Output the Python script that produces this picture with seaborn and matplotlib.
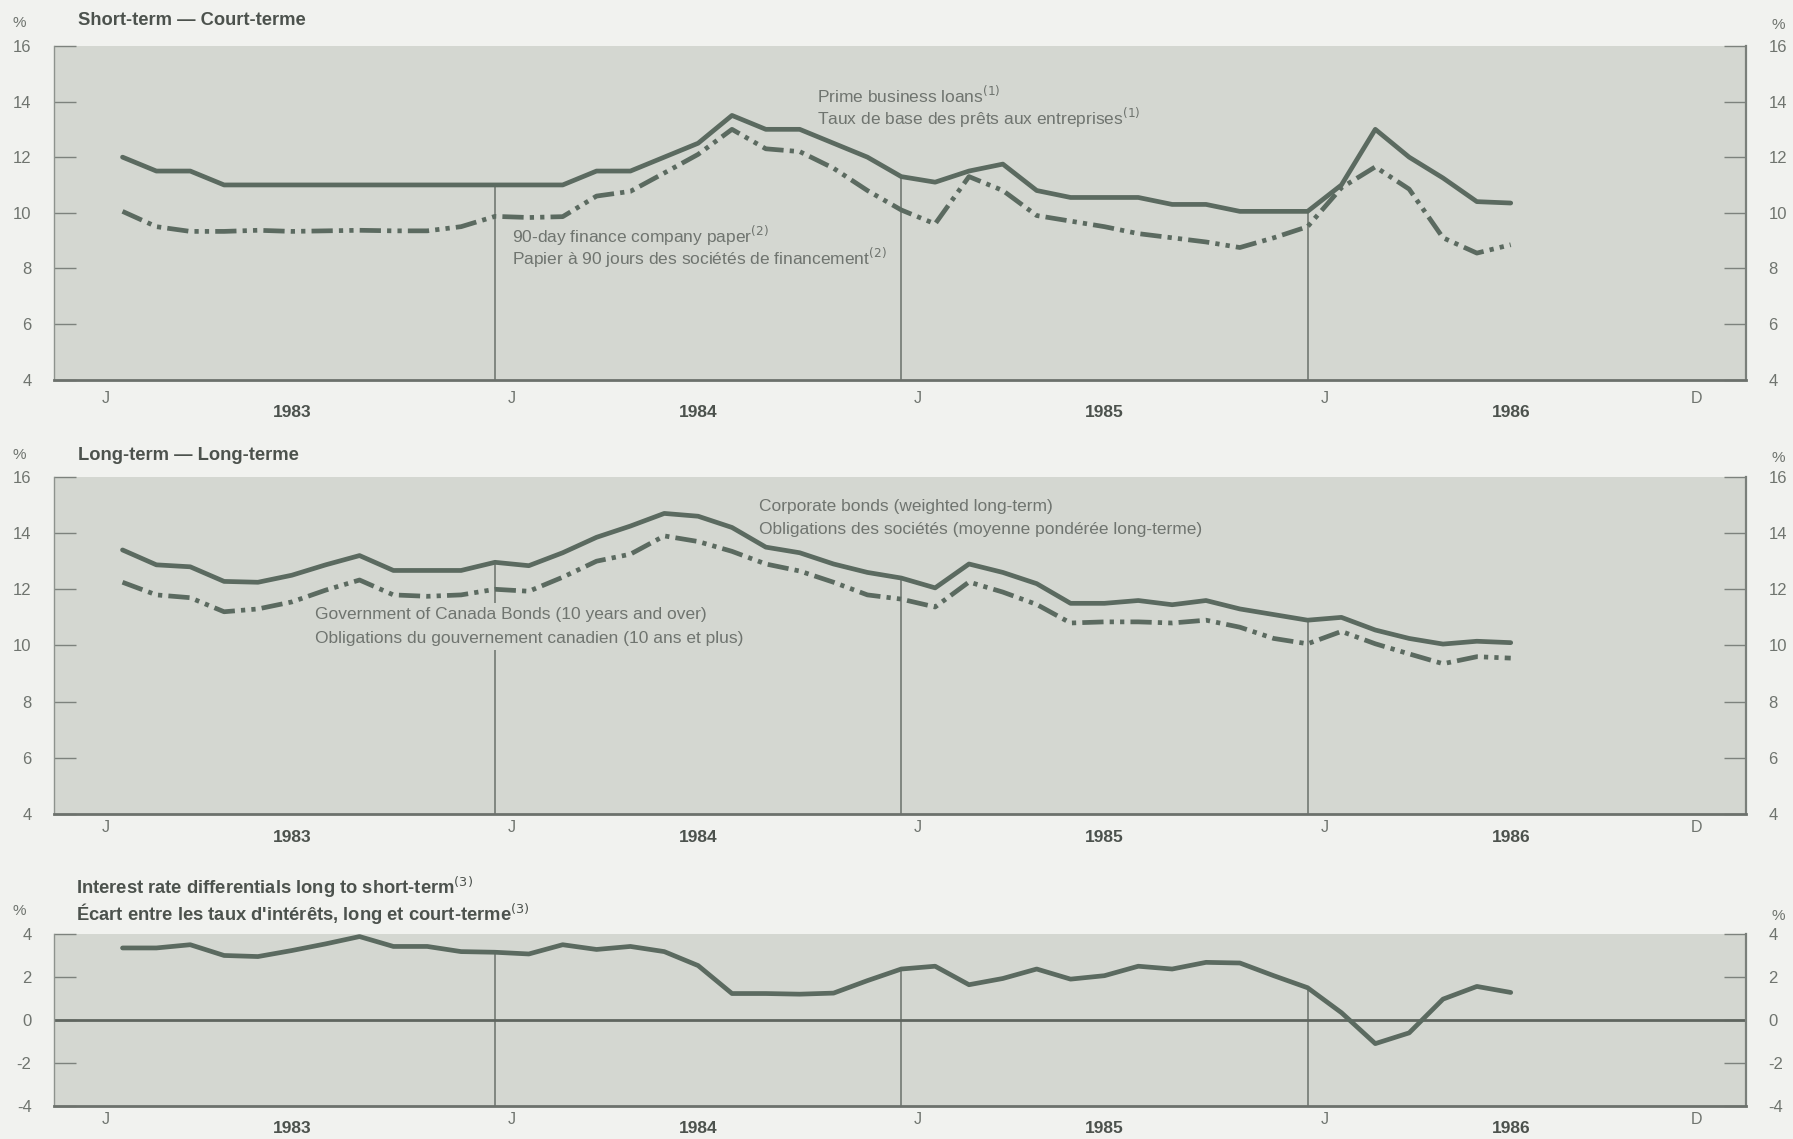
import matplotlib
matplotlib.use("Agg")
import matplotlib.pyplot as plt
import seaborn as sns
import pandas as pd

# monthly observations, Jan 1983 .. Jun 1986 (plotted at month ends)
months = list(range(1, 43))

prime = [12.0, 11.5, 11.5, 11.0, 11.0, 11.0, 11.0, 11.0, 11.0, 11.0,
         11.0, 11.0, 11.0, 11.0, 11.5, 11.5, 12.0, 12.5, 13.5, 13.0,
         13.0, 12.5, 12.0, 11.3, 11.1, 11.5, 11.75, 10.8, 10.55, 10.55,
         10.55, 10.3, 10.3, 10.05, 10.05, 10.05, 11.0, 13.0, 12.0, 11.25,
         10.4, 10.35]
paper = [10.05, 9.5, 9.33, 9.33, 9.37, 9.33, 9.35, 9.37, 9.35, 9.35,
         9.5, 9.87, 9.83, 9.86, 10.6, 10.77, 11.43, 12.1, 13.0, 12.3,
         12.2, 11.6, 10.8, 10.1, 9.6, 11.3, 10.8, 9.9, 9.7, 9.5,
         9.25, 9.1, 8.95, 8.75, 9.1, 9.5, 10.9, 11.65, 10.85, 9.1,
         8.55, 8.85]
corporate = [13.4, 12.87, 12.8, 12.28, 12.25, 12.5, 12.87, 13.2, 12.67, 12.67,
             12.67, 12.96, 12.84, 13.3, 13.85, 14.25, 14.7, 14.6, 14.2, 13.5,
             13.3, 12.9, 12.6, 12.4, 12.05, 12.9, 12.6, 12.2, 11.5, 11.5,
             11.6, 11.45, 11.6, 11.3, 11.1, 10.9, 11.0, 10.55, 10.25, 10.05,
             10.15, 10.1]
government = [12.25, 11.8, 11.7, 11.2, 11.3, 11.55, 11.97, 12.33, 11.8, 11.75,
              11.8, 12.0, 11.93, 12.43, 13.0, 13.25, 13.9, 13.7, 13.35, 12.9,
              12.65, 12.25, 11.8, 11.65, 11.37, 12.26, 11.9, 11.46, 10.8, 10.84,
              10.84, 10.8, 10.9, 10.65, 10.25, 10.06, 10.5, 10.06, 9.7, 9.35,
              9.6, 9.55]
differential = [3.35, 3.35, 3.5, 3.0, 2.95, 3.23, 3.54, 3.88, 3.42, 3.42,
                3.18, 3.15, 3.07, 3.5, 3.28, 3.42, 3.18, 2.53, 1.23, 1.23,
                1.2, 1.25, 1.83, 2.37, 2.5, 1.64, 1.93, 2.37, 1.9, 2.06,
                2.5, 2.37, 2.68, 2.65, 2.06, 1.5, 0.34, -1.1, -0.6, 0.97,
                1.56, 1.28]

year_labels = ["1983", "1984", "1985", "1986"]
year_centres = [6, 18, 30, 42]
month_labels = ["J", "J", "J", "J", "D"]
month_label_pos = [0.5, 12.5, 24.5, 36.5, 47.5]
year_breaks = [12, 24, 36]

BG = "#f1f2ef"
AX_BG = "#d4d7d1"
LINE = "#5b6a60"
TXT = "#6f746f"
DARK = "#4c524d"
DASH = (0, (4.5, 1.3, 0.9, 1.3, 0.9, 1.3))

sns.set_style("white")
plt.rcParams["font.family"] = ["Liberation Sans", "DejaVu Sans"]
plt.rcParams["axes.unicode_minus"] = False

df_short = pd.DataFrame({"month": months, "prime": prime, "paper": paper})
df_long = pd.DataFrame({"month": months, "corporate": corporate, "government": government})
df_diff = pd.DataFrame({"month": months, "differential": differential})

fig = plt.figure(figsize=(17.93, 11.39), dpi=100, facecolor=BG)
ax1 = fig.add_axes([0.030, 0.6667, 0.944, 0.293])
ax2 = fig.add_axes([0.030, 0.2853, 0.944, 0.296])
ax3 = fig.add_axes([0.030, 0.029, 0.944, 0.151])


def style(ax, ylim, yticks, jpad, year_off, top_series):
    ax.set_facecolor(AX_BG)
    ax.set_xlim(-1.03, 48.96)
    ax.set_ylim(*ylim)
    ax.set_xlabel("")
    ax.set_ylabel("")
    ax.set_yticks(yticks)
    ax.set_yticklabels([str(t) for t in yticks])
    ax.tick_params(axis="y", direction="in", length=16, width=1, color="#7d827d",
                   left=True, right=True, labelleft=True, labelright=True,
                   labelsize=12, labelcolor=TXT, pad=16)
    ax.set_xticks(month_label_pos)
    ax.set_xticklabels(month_labels)
    ax.tick_params(axis="x", which="major", length=0, labelsize=11.5,
                   labelcolor=TXT, pad=jpad)
    ax.set_xticks(range(0, 49), minor=True)
    ax.tick_params(axis="x", which="minor", direction="in", length=19,
                   width=0.9, color="#80857f")
    for yl, yc in zip(year_labels, year_centres):
        ax.annotate(yl, xy=(yc, 0), xycoords=("data", "axes fraction"),
                    xytext=(0, -year_off), textcoords="offset pixels",
                    ha="center", va="center", fontsize=12.5, fontweight="bold",
                    color=DARK)
    for xb in year_breaks:
        ax.vlines(xb, ylim[0], top_series[months.index(xb)], color="#6a706b", lw=1.1, zorder=1)
    ax.spines["top"].set_visible(False)
    ax.spines["left"].set_color("#8e938e")
    ax.spines["left"].set_linewidth(1)
    ax.spines["right"].set_color("#7a7f7a")
    ax.spines["right"].set_linewidth(1.6)
    ax.spines["bottom"].set_color("#6c716c")
    ax.spines["bottom"].set_linewidth(2)


# short-term
sns.lineplot(data=df_short, x="month", y="prime", ax=ax1, color=LINE, lw=3.4, zorder=3)
sns.lineplot(data=df_short, x="month", y="paper", ax=ax1, color=LINE, lw=3.4, ls=DASH, zorder=3)
style(ax1, (4, 16), [4, 6, 8, 10, 12, 14, 16], 8, 33, prime)

# long-term
sns.lineplot(data=df_long, x="month", y="corporate", ax=ax2, color=LINE, lw=3.4, zorder=3)
sns.lineplot(data=df_long, x="month", y="government", ax=ax2, color=LINE, lw=3.4, ls=DASH, zorder=3)
style(ax2, (4, 16), [4, 6, 8, 10, 12, 14, 16], 4, 23, corporate)

# differential
sns.lineplot(data=df_diff, x="month", y="differential", ax=ax3, color=LINE, lw=3.4, zorder=3)
ax3.axhline(0, color="#5f655f", lw=2, zorder=2)
style(ax3, (-4, 4), [-4, -2, 0, 2, 4], 4, 23, differential)

# series labels
lab = dict(fontsize=12.5, color=TXT, ha="left", va="center", zorder=4)
ax1.text(21.5, 14.22, "Prime business loans$^{(1)}$", **lab)
ax1.text(21.5, 13.4, "Taux de base des prêts aux entreprises$^{(1)}$", **lab)
ax1.text(12.5, 9.17, "90-day finance company paper$^{(2)}$", **lab)
ax1.text(12.5, 8.37, "Papier à 90 jours des sociétés de financement$^{(2)}$", **lab)
ax2.text(19.8, 14.53, "Corporate bonds (weighted long-term)\n"
         "Obligations des sociétés (moyenne pondérée long-terme)", linespacing=1.7, **lab)
# the year-break line is interrupted behind this label
ax2.text(6.67, 10.68, "Government of Canada Bonds (10 years and over)\n"
         "Obligations du gouvernement canadien (10 ans et plus)", linespacing=1.7,
         bbox=dict(facecolor=AX_BG, edgecolor="none", pad=3), **lab)

# panel titles and unit marks
title = dict(fontsize=13.2, fontweight="bold", color=DARK, ha="left", va="center")
fig.text(78 / 1793, 1 - 20.6 / 1139, "Short-term — Court-terme", **title)
fig.text(78 / 1793, 1 - 455 / 1139, "Long-term — Long-terme", **title)
fig.text(75.5 / 1793, 1 - 887 / 1139, "Interest rate differentials long to short-term$^{(3)}$", **title)
fig.text(75.5 / 1793, 1 - 914 / 1139, "Écart entre les taux d'intérêts, long et court-terme$^{(3)}$", **title)

pct = dict(fontsize=11, color=TXT, ha="center", va="center")
for yl, yr in [(23, 25), (455, 458), (911, 916)]:
    fig.text(19.4 / 1793, 1 - yl / 1139, "%", **pct)
    fig.text(1778 / 1793, 1 - yr / 1139, "%", **pct)

fig.savefig("out.png", dpi=100, facecolor=BG)
